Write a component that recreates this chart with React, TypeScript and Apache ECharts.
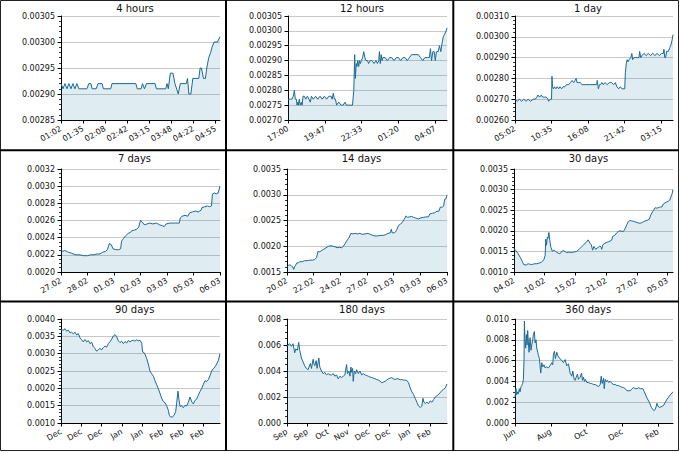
import React, { useEffect, useRef } from "react";
import * as echarts from "echarts";

// ---------- data ----------
const titles = ["4 hours", "12 hours", "1 day", "7 days", "14 days", "30 days", "90 days", "180 days", "360 days"];

// x in minutes (4h, 12h, 1d), hours (7d, 14d, 30d), days (90d, 180d, 360d)
const spans = [240, 720, 1440, 168, 336, 720, 90, 180, 278];

const tickAt4h = [0, 33.333, 66.667, 100, 133.333, 166.667, 200, 233.333];
const tickLabels4h = ["01:02", "01:35", "02:08", "02:42", "03:15", "03:48", "04:22", "04:55"];
const tickAt12h = [0, 166.667, 333.333, 500, 666.667];
const tickLabels12h = ["17:00", "19:47", "22:33", "01:20", "04:07"];
const tickAt1d = [0, 333.333, 666.667, 1000, 1333.333];
const tickLabels1d = ["05:02", "10:35", "16:08", "21:42", "03:15"];
const tickAt7d = [0, 28, 56, 84, 112, 140, 168];
const tickLabels7d = ["27.02", "28.02", "01.03", "02.03", "03.03", "05.03", "06.03"];
const tickAt14d = [0, 56, 112, 168, 224, 280, 336];
const tickLabels14d = ["20.02", "22.02", "24.02", "27.02", "01.03", "03.03", "06.03"];
const tickAt30d = [0, 139, 278, 417, 556, 695];
const tickLabels30d = ["04.02", "10.02", "15.02", "21.02", "27.02", "05.03"];
const tickAt90d = [0, 11.5, 23, 34.5, 46, 57.5, 69, 80.5];
const tickLabels90d = ["Dec", "Dec", "Dec", "Jan", "Jan", "Feb", "Feb", "Feb"];
const tickAt180d = [0, 23, 46, 69, 92, 115, 138, 161];
const tickLabels180d = ["Sep", "Sep", "Oct", "Nov", "Dec", "Dec", "Jan", "Feb"];
const tickAt360d = [0, 63, 126, 189, 252];
const tickLabels360d = ["Jun", "Aug", "Oct", "Dec", "Feb"];

const yMins = [0.00285, 0.0027, 0.0026, 0.002, 0.0015, 0.001, 0.001, 0, 0];
const yMaxs = [0.00305, 0.00305, 0.0031, 0.0032, 0.0035, 0.0035, 0.004, 0.008, 0.01];
const ySteps = [0.00005, 0.00005, 0.0001, 0.0002, 0.0005, 0.0005, 0.0005, 0.002, 0.002];
const yDecimals = [5, 5, 5, 4, 4, 4, 4, 3, 3];
const yMinorSplits = [5, 0, 5, 4, 5, 5, 5, 4, 4];

const series4h = [
  [0, 0.00292], [3, 0.00291], [6, 0.00292], [9, 0.00291], [12, 0.00292], [15, 0.00291], [18, 0.00292],
  [21, 0.00291], [24, 0.00292], [27, 0.00291], [33, 0.00291], [39, 0.00291], [42, 0.00292], [45, 0.00292],
  [47, 0.00291], [53, 0.00291], [56, 0.00292], [62, 0.00292], [64, 0.00291], [75, 0.00291], [77, 0.00292],
  [113, 0.00292], [115, 0.00291], [121, 0.00291], [123, 0.00292], [126, 0.00291], [129, 0.00292],
  [142, 0.00292], [144, 0.00291], [158, 0.00291], [160, 0.00292], [162, 0.00291], [165, 0.00294],
  [169, 0.00294], [172, 0.00292], [177, 0.0029], [180, 0.00292], [189, 0.00292], [191, 0.00293],
  [193, 0.0029], [196, 0.0029], [199, 0.00293], [208, 0.00293], [210, 0.00295], [212, 0.00295],
  [215, 0.00293], [218, 0.00293], [220, 0.00295], [223, 0.00297], [226, 0.00298], [228, 0.00299],
  [231, 0.003], [236, 0.003], [240, 0.00301],
];

const series12h = [
  [0, 0.00277], [10, 0.00277], [18, 0.00277], [24, 0.00278], [29, 0.0028], [33, 0.00277], [38, 0.00277],
  [41, 0.00275], [44, 0.00276], [47, 0.00275], [51, 0.00277], [55, 0.00275], [60, 0.00276], [64, 0.00275],
  [68, 0.00278], [74, 0.00278], [80, 0.00277], [88, 0.00278], [95, 0.00277], [101, 0.00276], [106, 0.00278],
  [115, 0.00277], [125, 0.00278], [135, 0.00277], [145, 0.00278], [155, 0.00277], [165, 0.00278],
  [175, 0.00277], [185, 0.00278], [195, 0.00278], [200, 0.00277], [205, 0.00279], [210, 0.00277],
  [215, 0.00277], [220, 0.00275], [230, 0.00276], [240, 0.00275], [250, 0.00275], [258, 0.00276],
  [265, 0.00275], [275, 0.00275], [285, 0.00275], [292, 0.00275], [298, 0.0028], [302, 0.00292],
  [305, 0.00284], [309, 0.00289], [312, 0.00288], [316, 0.0029], [320, 0.00288], [324, 0.0029],
  [328, 0.00289], [332, 0.0029], [338, 0.00291], [343, 0.00293], [348, 0.00291], [353, 0.0029],
  [360, 0.0029], [365, 0.00289], [372, 0.0029], [380, 0.0029], [390, 0.00289], [398, 0.0029],
  [405, 0.00289], [411, 0.0029], [414, 0.00293], [418, 0.00289], [422, 0.00292], [426, 0.0029],
  [430, 0.00291], [440, 0.00291], [450, 0.0029], [460, 0.00291], [470, 0.00291], [480, 0.0029],
  [490, 0.00291], [500, 0.00291], [510, 0.0029], [520, 0.00291], [530, 0.00291], [540, 0.0029],
  [550, 0.00291], [560, 0.00292], [575, 0.00292], [590, 0.00292], [600, 0.00291], [610, 0.0029],
  [620, 0.00291], [630, 0.00291], [640, 0.00291], [645, 0.00294], [650, 0.0029], [656, 0.00293],
  [662, 0.00293], [667, 0.0029], [672, 0.00293], [680, 0.00293], [686, 0.00295], [692, 0.00293],
  [698, 0.00296], [703, 0.00298], [710, 0.00299], [716, 0.003], [720, 0.00301],
];

const series1d = [
  [0, 0.0027], [20, 0.00269], [40, 0.0027], [60, 0.00269], [80, 0.0027], [100, 0.00269], [120, 0.0027],
  [140, 0.00269], [167, 0.0027], [185, 0.0027], [200, 0.00271], [210, 0.00272], [225, 0.00271],
  [240, 0.00272], [252, 0.00271], [270, 0.00271], [285, 0.00271], [300, 0.0027], [307, 0.00269],
  [322, 0.0027], [333, 0.0027], [337, 0.00281], [342, 0.00276], [350, 0.00275], [360, 0.00276],
  [372, 0.00275], [385, 0.00276], [398, 0.00275], [410, 0.00276], [425, 0.00275], [440, 0.00276],
  [455, 0.00276], [470, 0.00277], [490, 0.00277], [505, 0.00278], [520, 0.00279], [535, 0.00278],
  [548, 0.00279], [557, 0.0028], [565, 0.00278], [580, 0.00278], [595, 0.00278], [610, 0.00277],
  [640, 0.00277], [680, 0.00277], [720, 0.00277], [745, 0.00277], [749, 0.00279], [760, 0.00275],
  [770, 0.00277], [780, 0.00277], [792, 0.00278], [805, 0.00277], [820, 0.00278], [840, 0.00277],
  [860, 0.00278], [880, 0.00278], [900, 0.00277], [915, 0.00278], [928, 0.00276], [945, 0.00275],
  [960, 0.00276], [975, 0.00275], [1000, 0.00275], [1006, 0.00283], [1014, 0.00287], [1022, 0.00289],
  [1030, 0.00288], [1040, 0.00289], [1055, 0.0029], [1065, 0.00292], [1072, 0.00289], [1085, 0.0029],
  [1100, 0.0029], [1115, 0.0029], [1130, 0.0029], [1136, 0.00293], [1146, 0.0029], [1158, 0.00291],
  [1175, 0.00292], [1195, 0.00291], [1215, 0.00292], [1235, 0.00291], [1255, 0.00292], [1275, 0.00291],
  [1295, 0.00292], [1315, 0.00291], [1335, 0.00292], [1352, 0.00292], [1357, 0.00294], [1365, 0.0029],
  [1372, 0.0029], [1382, 0.00293], [1398, 0.00293], [1412, 0.00295], [1420, 0.00296], [1430, 0.00298],
  [1440, 0.00301],
];

const series7d = [
  [0, 0.00226], [2, 0.00224], [4, 0.00225], [6, 0.00224], [8, 0.00223], [11, 0.00222], [13, 0.00221],
  [16, 0.0022], [20, 0.0022], [24, 0.00219], [28, 0.00219], [31, 0.0022], [34, 0.0022], [38, 0.00221],
  [41, 0.00221], [44, 0.00223], [47, 0.00224], [49, 0.00226], [51, 0.00233], [53, 0.00232], [55, 0.00227],
  [58, 0.00226], [61, 0.00226], [63, 0.00227], [64, 0.00236], [66, 0.00239], [68, 0.00242], [71, 0.00245],
  [73, 0.00246], [75, 0.00248], [78, 0.00249], [80, 0.0025], [82, 0.00252], [84, 0.0026], [86, 0.00258],
  [88, 0.00255], [91, 0.00256], [94, 0.00257], [97, 0.00256], [101, 0.00257], [104, 0.00255],
  [107, 0.00254], [109, 0.00253], [111, 0.00256], [115, 0.00257], [120, 0.00257], [125, 0.00257],
  [126, 0.00263], [128, 0.00265], [131, 0.00266], [134, 0.00265], [136, 0.00269], [139, 0.0027],
  [142, 0.00271], [145, 0.0027], [148, 0.00272], [149, 0.00275], [152, 0.00276], [155, 0.00277],
  [157, 0.00276], [159, 0.00277], [160, 0.00291], [162, 0.00292], [164, 0.00291], [166, 0.00292],
  [168, 0.003],
];

const series14d = [
  [0, 0.0016], [3, 0.00163], [6, 0.00164], [9, 0.00162], [12, 0.0016], [14, 0.00155], [16, 0.0016],
  [18, 0.00163], [21, 0.00168], [24, 0.00168], [27, 0.0017], [32, 0.0017], [37, 0.00172], [43, 0.00172],
  [48, 0.00173], [53, 0.00173], [58, 0.00174], [62, 0.00178], [65, 0.0019], [69, 0.00189], [73, 0.00192],
  [77, 0.00194], [82, 0.00197], [87, 0.002], [92, 0.00201], [97, 0.002], [101, 0.00199], [105, 0.00197],
  [110, 0.00198], [115, 0.00197], [118, 0.002], [122, 0.00205], [125, 0.0021], [129, 0.00215],
  [131, 0.00218], [134, 0.00225], [139, 0.00224], [143, 0.00225], [148, 0.00224], [153, 0.00225],
  [158, 0.00223], [164, 0.00224], [170, 0.00225], [175, 0.00223], [180, 0.00221], [185, 0.0022],
  [190, 0.0022], [195, 0.00221], [200, 0.00221], [206, 0.00222], [212, 0.00225], [217, 0.00226],
  [219, 0.00233], [221, 0.00226], [225, 0.00226], [228, 0.00228], [231, 0.00233], [234, 0.0024],
  [238, 0.00243], [242, 0.00246], [246, 0.00252], [250, 0.00259], [253, 0.00256], [257, 0.00257],
  [262, 0.00258], [266, 0.00256], [270, 0.00255], [276, 0.00253], [281, 0.00255], [286, 0.00256],
  [292, 0.00257], [297, 0.00257], [300, 0.00263], [305, 0.00264], [310, 0.00265], [315, 0.00268],
  [319, 0.00268], [322, 0.00276], [326, 0.00276], [329, 0.00278], [331, 0.00291], [334, 0.00292],
  [336, 0.003],
];

const series30d = [
  [0, 0.00157], [8, 0.00152], [18, 0.00145], [29, 0.00135], [38, 0.00125], [44, 0.00118], [56, 0.00117],
  [64, 0.0012], [71, 0.00119], [79, 0.00118], [86, 0.00119], [94, 0.0012], [102, 0.0012], [110, 0.00121],
  [117, 0.00122], [124, 0.00124], [129, 0.00126], [136, 0.00131], [141, 0.0014], [144, 0.0018],
  [147, 0.00165], [151, 0.00185], [154, 0.00182], [158, 0.00196], [162, 0.00176], [167, 0.0016],
  [174, 0.0015], [180, 0.00153], [185, 0.00152], [192, 0.00148], [200, 0.00146], [208, 0.00144],
  [216, 0.0015], [223, 0.00152], [230, 0.0015], [238, 0.00147], [245, 0.00148], [253, 0.00148],
  [260, 0.00147], [268, 0.00148], [276, 0.00149], [283, 0.0015], [290, 0.00153], [298, 0.00157],
  [306, 0.00161], [314, 0.00165], [322, 0.0017], [329, 0.00173], [336, 0.00178], [344, 0.0017],
  [350, 0.00166], [356, 0.00153], [362, 0.00162], [370, 0.00155], [376, 0.00158], [382, 0.0016],
  [389, 0.00163], [395, 0.0016], [397, 0.00155], [402, 0.00166], [412, 0.0017], [420, 0.00172],
  [427, 0.00173], [435, 0.00175], [442, 0.00177], [447, 0.00186], [452, 0.00188], [458, 0.0019],
  [465, 0.00195], [472, 0.00198], [480, 0.002], [488, 0.00199], [495, 0.00198], [503, 0.00205],
  [511, 0.00215], [518, 0.00223], [526, 0.00225], [533, 0.00224], [541, 0.00223], [548, 0.00222],
  [556, 0.0022], [564, 0.00219], [571, 0.00218], [579, 0.0022], [586, 0.00222], [594, 0.00224],
  [602, 0.00225], [612, 0.00228], [621, 0.0024], [627, 0.00246], [632, 0.0025], [639, 0.00256],
  [647, 0.00255], [653, 0.00256], [659, 0.00257], [665, 0.00258], [670, 0.00258], [676, 0.00265],
  [684, 0.00268], [692, 0.0027], [699, 0.00272], [706, 0.00275], [712, 0.00285], [716, 0.0029],
  [720, 0.003],
];

const series90d = [
  [0, 0.0037], [1.3, 0.00368], [2.3, 0.00372], [3.2, 0.00365], [4.2, 0.00368], [5.1, 0.0036], [6.0, 0.00362],
  [7.0, 0.00357], [7.9, 0.00362], [8.9, 0.00354], [9.8, 0.00358], [10.8, 0.00345], [11.7, 0.0034],
  [12.6, 0.00334], [13.6, 0.00341], [14.5, 0.00334], [15.5, 0.00338], [16.4, 0.00329], [17.4, 0.00333],
  [18.3, 0.0032], [19.2, 0.00315], [20.2, 0.00307], [21.1, 0.00312], [22.1, 0.00315], [23.0, 0.00311],
  [24.0, 0.00318], [24.9, 0.00322], [25.8, 0.00319], [26.8, 0.00329], [27.7, 0.00334], [28.7, 0.00342],
  [29.6, 0.00351], [30.6, 0.00355], [31.5, 0.00349], [32.5, 0.00337], [33.4, 0.00332], [34.3, 0.00336],
  [35.3, 0.00329], [36.2, 0.00335], [37.2, 0.00331], [38.1, 0.00338], [39.1, 0.00334], [40.0, 0.00337],
  [40.9, 0.00339], [41.9, 0.00336], [42.8, 0.0034], [43.7, 0.00337], [44.7, 0.00339], [45.7, 0.0033],
  [46.2, 0.00305], [47.0, 0.00303], [47.5, 0.00299], [48.5, 0.00286], [49.4, 0.0027], [50.4, 0.00249],
  [51.3, 0.00242], [52.3, 0.00235], [53.2, 0.00222], [54.2, 0.0021], [55.1, 0.00199], [56.0, 0.00186],
  [57.0, 0.00171], [57.9, 0.00162], [58.9, 0.00158], [59.8, 0.0015], [60.8, 0.00136], [61.3, 0.00122],
  [62.1, 0.00117], [63.2, 0.00118], [64.0, 0.00122], [64.9, 0.00133], [65.5, 0.00158], [66.2, 0.00192],
  [66.8, 0.00166], [67.4, 0.00148], [68.3, 0.0015], [69.2, 0.00144], [70.2, 0.00151], [71.1, 0.00149],
  [72.1, 0.0016], [73.0, 0.00175], [74.0, 0.00161], [74.9, 0.00155], [75.8, 0.00165], [76.8, 0.00169],
  [77.7, 0.0018], [78.7, 0.00191], [79.6, 0.00199], [80.6, 0.00212], [81.5, 0.00222], [82.5, 0.0022],
  [83.4, 0.00225], [84.3, 0.00236], [85.3, 0.0025], [86.2, 0.00257], [87.2, 0.00262], [88.1, 0.0027],
  [89.1, 0.00281], [90, 0.003],
];

const series180d = [
  [0, 0.0059], [1.1, 0.006], [3.0, 0.0061], [4.9, 0.0059], [6.8, 0.0061], [8.7, 0.0054], [9.8, 0.0057],
  [11.7, 0.0056], [13.2, 0.0062], [14.3, 0.0056], [16.2, 0.005], [18.1, 0.0047], [19.9, 0.0044],
  [21.8, 0.0042], [23.7, 0.0041], [24.8, 0.0043], [26.4, 0.0046], [27.5, 0.0042], [29.4, 0.0049],
  [30.5, 0.0045], [31.3, 0.0044], [32.8, 0.0048], [33.9, 0.0042], [35.8, 0.005], [36.9, 0.0043],
  [38.8, 0.004], [40.7, 0.0038], [42.5, 0.0039], [44.4, 0.0037], [46.3, 0.0038], [48.2, 0.0037],
  [50.1, 0.0037], [52.0, 0.0038], [53.8, 0.0036], [55.7, 0.0037], [57.6, 0.0034], [59.5, 0.0036],
  [61.4, 0.0035], [63.3, 0.0036], [65.1, 0.0037], [67.0, 0.0045], [68.1, 0.0038], [69.7, 0.004],
  [70.8, 0.0036], [71.9, 0.0043], [72.7, 0.0039], [73.8, 0.0042], [74.5, 0.0032], [75.7, 0.004],
  [77.2, 0.0038], [78.3, 0.0041], [80.2, 0.0038], [82.1, 0.004], [84.0, 0.0037], [85.8, 0.0038],
  [87.7, 0.0037], [89.6, 0.00365], [91.5, 0.0036], [93.4, 0.00353], [95.3, 0.0035], [97.2, 0.00345],
  [99, 0.0034], [101, 0.00335], [102.8, 0.0033], [104.7, 0.00322], [106.6, 0.0031], [108.5, 0.00315],
  [110.3, 0.0032], [112.2, 0.0033], [114.1, 0.0034], [116, 0.00345], [117.8, 0.0035], [119.7, 0.0034],
  [121.6, 0.00335], [123.5, 0.0034], [125.4, 0.0034], [127.3, 0.00332], [129.1, 0.00335], [131, 0.0033],
  [132.9, 0.0033], [134.8, 0.00328], [136.7, 0.0031], [138.6, 0.0027], [140.4, 0.0024], [142.3, 0.0022],
  [144.2, 0.0019], [146.1, 0.0016], [148.0, 0.0013], [149.8, 0.0012], [151.7, 0.0013], [152.9, 0.0019],
  [154.0, 0.0016], [155.5, 0.0015], [157.4, 0.0016], [159.3, 0.0015], [161.1, 0.0017], [163.0, 0.0016],
  [164.9, 0.0018], [166.8, 0.002], [170.6, 0.0022], [174.3, 0.0025], [176.2, 0.0026], [178.1, 0.0027],
  [180, 0.003],
];

const series360d = [
  [0, 0.0025], [1.8, 0.0033], [2.9, 0.0027], [4.7, 0.003], [5.9, 0.0028], [7.6, 0.0033], [8.8, 0.003],
  [10.6, 0.0035], [11.8, 0.0036], [13.5, 0.0038], [14.7, 0.0042], [15.9, 0.006], [16.5, 0.0098],
  [17.6, 0.008], [18.8, 0.0072], [20.0, 0.0085], [21.2, 0.0075], [22.3, 0.0089], [23.5, 0.0078],
  [24.7, 0.0068], [26.5, 0.0082], [28.2, 0.007], [29.4, 0.0075], [31.2, 0.008], [32.3, 0.0085],
  [34.1, 0.0088], [35.3, 0.0077], [37.0, 0.008], [38.2, 0.0072], [40.0, 0.0068], [41.2, 0.0065],
  [42.9, 0.0062], [44.1, 0.0055], [45.3, 0.0048], [47.0, 0.0058], [48.8, 0.0054], [51.1, 0.0056],
  [52.9, 0.0053], [55.8, 0.0054], [58.8, 0.0053], [61.7, 0.0055], [64.7, 0.0058], [66.4, 0.0056],
  [67.6, 0.0066], [69.4, 0.0069], [71.1, 0.0062], [73.5, 0.0068], [75.2, 0.0065], [77.0, 0.0063],
  [79.4, 0.0062], [82.3, 0.006], [85.2, 0.0058], [88.2, 0.0061], [91.1, 0.0055], [94.1, 0.0057],
  [97.0, 0.0048], [99.9, 0.0045], [101.7, 0.005], [104.1, 0.0042], [105.8, 0.0041], [107.6, 0.0044],
  [109.9, 0.0047], [111.7, 0.0042], [114.6, 0.0044], [117.0, 0.0048], [118.8, 0.0041], [120.5, 0.0044],
  [122.3, 0.004], [124.0, 0.0042], [126.4, 0.0039], [129, 0.0039], [132.3, 0.0038], [135, 0.0038],
  [138.2, 0.0037], [141, 0.0037], [144.0, 0.0036], [147.0, 0.0035], [149.9, 0.0037], [151.7, 0.0045],
  [153.4, 0.0038], [155.8, 0.0043], [157.0, 0.0033], [158.7, 0.0042], [160.5, 0.004], [162.8, 0.0041],
  [164.6, 0.0039], [167.5, 0.004], [170.5, 0.0038], [173.4, 0.0037], [176.4, 0.0037], [179.3, 0.0036],
  [182.2, 0.0036], [185.2, 0.0035], [188, 0.00345], [191.0, 0.0034], [194, 0.0033], [196.9, 0.0031],
  [199.8, 0.0031], [202.8, 0.0031], [205.8, 0.0033], [208.7, 0.0034], [211.6, 0.0033], [214.6, 0.0033],
  [217.5, 0.0034], [220.5, 0.0033], [225.2, 0.0033], [227.5, 0.003], [232.2, 0.0024], [236.3, 0.002],
  [239.9, 0.0015], [244.0, 0.0012], [246.9, 0.0013], [249.9, 0.0019], [251.6, 0.0016], [254.5, 0.0015],
  [258.7, 0.0016], [261.6, 0.0017], [264.5, 0.002], [267.5, 0.0023], [270.4, 0.0025], [273.3, 0.0027],
  [278, 0.003],
];

const allSeries = [series4h, series12h, series1d, series7d, series14d, series30d, series90d, series180d, series360d];
const allTickAt = [tickAt4h, tickAt12h, tickAt1d, tickAt7d, tickAt14d, tickAt30d, tickAt90d, tickAt180d, tickAt360d];
const allTickLabels = [
  tickLabels4h, tickLabels12h, tickLabels1d, tickLabels7d, tickLabels14d, tickLabels30d,
  tickLabels90d, tickLabels180d, tickLabels360d,
];

// ---------- layout ----------
const gridLeft = [61, 288, 515, 61, 287, 514, 61, 287, 515];
const gridWidth = [159, 159, 158, 159, 160, 159, 159, 160, 158];
const rowTop = [16, 169, 319];
const rowHeight = [104, 103, 104];
const titleX = [135, 362, 588, 134.5, 361.5, 588.5, 134.7, 362, 588.3];
const titleY = [8, 158, 309];

const FONT = "DejaVu Sans";
const LINE_COLOR = "#1b6a96";
const FILL_COLOR = "rgba(31,119,160,0.2)";

function buildOption() {
  const grid: any[] = [];
  const xAxis: any[] = [];
  const yAxis: any[] = [];
  const series: any[] = [];
  const graphic: any[] = [];

  for (let i = 0; i < 9; i++) {
    const row = Math.floor(i / 3);
    grid.push({
      left: gridLeft[i],
      top: rowTop[row],
      width: gridWidth[i],
      height: rowHeight[row],
      containLabel: false,
      outerBoundsMode: "none",
    });
    const ticks = allTickAt[i];
    const labels = allTickLabels[i];
    xAxis.push({
      type: "value",
      gridIndex: i,
      min: 0,
      max: spans[i],
      axisLine: { show: true, onZero: false, lineStyle: { color: "#000", width: 1 } },
      axisTick: { show: true, length: 3.5, customValues: ticks, lineStyle: { color: "#000", width: 1 } },
      axisLabel: {
        customValues: ticks,
        rotate: 30,
        margin: 8,
        fontSize: 8,
        fontFamily: FONT,
        color: "#111",
        formatter: (v: number) => {
          const k = ticks.findIndex((t) => Math.abs(t - v) < 1e-6);
          return k >= 0 ? labels[k] : "";
        },
      },
      splitLine: { show: false },
    });
    const dec = yDecimals[i];
    yAxis.push({
      type: "value",
      gridIndex: i,
      min: yMins[i],
      max: yMaxs[i],
      interval: ySteps[i],
      axisLine: { show: true, onZero: false, lineStyle: { color: "#000", width: 1 } },
      axisTick: { show: true, length: 3.5, lineStyle: { color: "#000", width: 1 } },
      minorTick: {
        show: yMinorSplits[i] > 0,
        splitNumber: yMinorSplits[i] || 5,
        length: 2,
        lineStyle: { color: "#000", width: 0.8 },
      },
      axisLabel: {
        margin: 6,
        fontSize: 8,
        fontFamily: FONT,
        color: "#111",
        formatter: (v: number) => v.toFixed(dec),
      },
      splitLine: { show: true, lineStyle: { color: "#c8c8c8", width: 1 } },
    });
    series.push({
      type: "line",
      xAxisIndex: i,
      yAxisIndex: i,
      data: allSeries[i],
      showSymbol: false,
      symbol: "none",
      lineStyle: { color: LINE_COLOR, width: 1 },
      areaStyle: { color: FILL_COLOR, origin: "start" },
      emphasis: { disabled: true },
    });
    graphic.push({
      type: "text",
      x: titleX[i],
      y: titleY[row],
      silent: true,
      style: {
        text: titles[i],
        fontSize: 10,
        fontFamily: FONT,
        fill: "#111",
        textAlign: "center",
        textVerticalAlign: "middle",
      },
    });
  }

  graphic.push(
    { type: "rect", silent: true, shape: { x: 0.5, y: 0.5, width: 678, height: 450 }, style: { fill: "none", stroke: "#222", lineWidth: 1 } },
    { type: "line", silent: true, shape: { x1: 226, y1: 0, x2: 226, y2: 451 }, style: { stroke: "#000", lineWidth: 2 } },
    { type: "line", silent: true, shape: { x1: 453.3, y1: 0, x2: 453.3, y2: 451 }, style: { stroke: "#000", lineWidth: 2 } },
    { type: "line", silent: true, shape: { x1: 0, y1: 150.3, x2: 679, y2: 150.3 }, style: { stroke: "#000", lineWidth: 2 } },
    { type: "line", silent: true, shape: { x1: 0, y1: 301.5, x2: 679, y2: 301.5 }, style: { stroke: "#000", lineWidth: 2 } }
  );

  return {
    animation: false,
    backgroundColor: "#fff",
    grid,
    xAxis,
    yAxis,
    series,
    graphic,
  };
}

export default function App() {
  const ref = useRef<HTMLDivElement>(null);
  useEffect(() => {
    document.body.style.margin = "0";
    const chart = echarts.init(ref.current as HTMLDivElement, null, { renderer: "svg" });
    chart.setOption(buildOption() as any);
    return () => {
      chart.dispose();
    };
  }, []);
  return <div ref={ref} style={{ width: 680, height: 453 }} />;
}
